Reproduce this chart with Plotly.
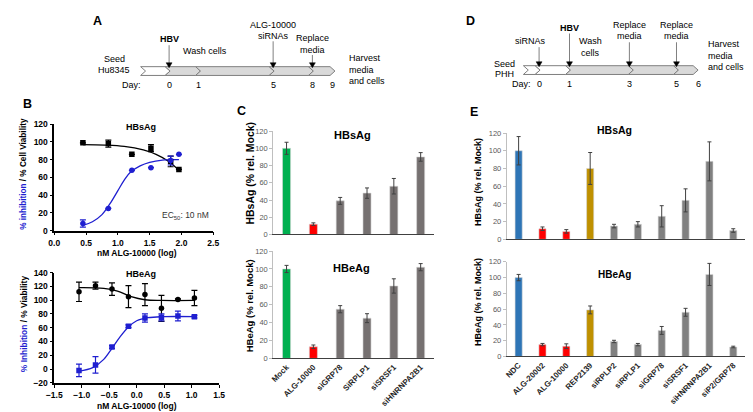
import plotly.graph_objects as go

W, H = 753, 412
FONT = "Liberation Sans, Arial, sans-serif"
BLUE = "#1f1fd0"


def px(x):
    return x / W


def py(y):
    return 1 - y / H


# ---------------- Panel B: dose response ----------------
b1_dose = [0.45, 0.85, 1.22, 1.52, 1.83, 1.96]
b1_inhib = [8, 25, 68, 71, 79, 86]
b1_inhib_err = [4, 0, 0, 0, 5, 0]
b1_viab = [99, 98, 86, 93, 78, 69]
b1_viab_err = [0, 4, 0, 4, 6, 0]
# fitted curves
b1_inhib_fit_x = [0.45, 0.6, 0.75, 0.9, 1.0, 1.1, 1.2, 1.35, 1.5, 1.7, 1.96]
b1_inhib_fit_y = [6, 10, 18, 33, 45, 57, 66, 73, 77, 79.5, 80]
b1_viab_fit_x = [0.45, 0.8, 1.1, 1.4, 1.6, 1.8, 1.96]
b1_viab_fit_y = [97, 96.5, 95, 91, 86, 78, 68]

b2_dose = [-1.05, -0.75, -0.45, -0.15, 0.15, 0.45, 0.75, 1.05]
b2_viab = [112, 121, 116, 105, 108, 88, 101, 103]
b2_viab_err = [14, 5, 9, 16, 16, 19, 1, 11]
b2_inhib = [-2, 6, 32, 62, 74, 75, 77, 76]
b2_inhib_err = [9, 12, 2, 2, 6, 5, 7, 2]
b2_viab_fit_x = [-1.05, -0.6, -0.35, -0.1, 0.15, 0.45, 1.05]
b2_viab_fit_y = [118, 117, 113, 105, 100.5, 99.5, 99.5]
b2_inhib_fit_x = [-1.05, -0.8, -0.6, -0.45, -0.3, -0.15, 0.0, 0.2, 0.5, 1.05]
b2_inhib_fit_y = [-3, 2, 14, 30, 47, 61, 70, 74.5, 76, 76]

# ---------------- Panel C: siRNA bars ----------------
c_labels = ["Mock", "ALG-10000", "siGRP78", "SiRPLP1", "siSRSF1", "siHNRNPA2B1"]
c_hbsag = [100, 12, 39, 48, 56, 90]
c_hbsag_err = [7, 1.5, 4, 6, 9, 5]
c_hbeag = [100, 13, 55, 45, 81, 102]
c_hbeag_err = [4, 2, 4, 5, 8, 4]
c_colors = ["#00b050", "#ff0000", "#767171", "#767171", "#767171", "#767171"]

# ---------------- Panel E: PHH bars ----------------
e_labels = ["NDC", "ALG-20002", "ALG-10000", "REP2139", "siRPLP2", "siRPLP1",
            "siGRP78", "siSRSF1", "siHNRNPA2B1", "siP2/GRP78"]
e_hbsag = [100, 12, 9, 80, 15, 17, 26, 44, 88, 10]
e_hbsag_err = [16, 2, 2, 18, 2, 3, 12, 13, 22, 2]
e_hbeag = [100, 15, 13, 59, 19, 15, 33, 56, 104, 12]
e_hbeag_err = [4, 1.5, 3, 5, 1.5, 1.5, 5, 5, 14, 1]
e_colors = ["#2e75b6", "#ff0000", "#ff0000", "#bf9000"] + ["#808080"] * 6

# ---------------- timelines ----------------
a_days = ["0", "1", "5", "8", "9"]
d_days = ["0", "1", "3", "5", "6"]

fig = go.Figure()


def scatter_err(x, y, err, color, symbol, xa, ya):
    fig.add_trace(go.Scatter(
        x=x, y=y, mode="markers", xaxis=xa, yaxis=ya,
        marker=dict(color=color, symbol=symbol, size=5.5),
        error_y=dict(type="data", array=err, color=color, thickness=1.2, width=3),
        showlegend=False))


def fit_line(x, y, color, xa, ya):
    fig.add_trace(go.Scatter(
        x=x, y=y, mode="lines", xaxis=xa, yaxis=ya,
        line=dict(color=color, width=1.3, shape="spline"), showlegend=False))


fit_line(b1_viab_fit_x, b1_viab_fit_y, "black", "x", "y")
fit_line(b1_inhib_fit_x, b1_inhib_fit_y, BLUE, "x", "y")
scatter_err(b1_dose, b1_viab, b1_viab_err, "black", "square", "x", "y")
scatter_err(b1_dose, b1_inhib, b1_inhib_err, BLUE, "circle", "x", "y")

fit_line(b2_viab_fit_x, b2_viab_fit_y, "black", "x2", "y2")
fit_line(b2_inhib_fit_x, b2_inhib_fit_y, BLUE, "x2", "y2")
scatter_err(b2_dose, b2_viab, b2_viab_err, "black", "circle", "x2", "y2")
scatter_err(b2_dose, b2_inhib, b2_inhib_err, BLUE, "square", "x2", "y2")


def bars(labels, vals, err, colors, xa, ya):
    fig.add_trace(go.Bar(
        x=labels, y=vals, xaxis=xa, yaxis=ya,
        marker=dict(color=colors, line=dict(color="#d9d9d9", width=0.6)),
        error_y=dict(type="data", array=err, color="#404040", thickness=1, width=2),
        showlegend=False))


bars(c_labels, c_hbsag, c_hbsag_err, c_colors, "x3", "y3")
bars(c_labels, c_hbeag, c_hbeag_err, c_colors, "x4", "y4")
bars(e_labels, e_hbsag, e_hbsag_err, e_colors, "x5", "y5")
bars(e_labels, e_hbeag, e_hbeag_err, e_colors, "x6", "y6")

# axes
b_x = dict(showline=True, linecolor="black", linewidth=1.5, ticks="outside",
           ticklen=3, tickwidth=1.3, tickcolor="black", showgrid=False,
           zeroline=False, tickformat=".1f",
           tickfont=dict(family=FONT, size=8.5, color="black", weight="bold"))
b_y = dict(showline=True, linecolor="black", linewidth=1.5, ticks="outside",
           ticklen=3, tickwidth=1.3, tickcolor="black", showgrid=False,
           zeroline=False, dtick=20,
           tickfont=dict(family=FONT, size=8.5, color="black", weight="bold"))
bar_x = dict(type="category", showline=True, linecolor="#404040", linewidth=1.2,
             ticks="", showgrid=False, zeroline=False, tickangle=-45,
             tickfont=dict(family=FONT, size=8, color="#262626", weight="bold"))
bar_y = dict(showline=True, linecolor="#bfbfbf", linewidth=0.8, ticks="outside",
             ticklen=3, tickcolor="#bfbfbf", showgrid=False, zeroline=False,
             range=[0, 120], dtick=20,
             tickfont=dict(family=FONT, size=7.5, color="#595959"))

layout = dict(
    width=W, height=H, margin=dict(l=0, r=0, t=0, b=0),
    paper_bgcolor="white", plot_bgcolor="white", bargap=0.7,
    font=dict(family=FONT, color="black"),
    xaxis=dict(b_x, domain=[px(39), px(201)], range=[0, 2.5], dtick=0.5, anchor="y"),
    yaxis=dict(b_y, domain=[py(223), py(114)], range=[0, 120], anchor="x"),
    xaxis2=dict(b_x, domain=[px(39), px(207)], range=[-1.5, 1.5], dtick=0.5, anchor="y2"),
    yaxis2=dict(b_y, domain=[py(379), py(266)], range=[-20, 140], anchor="x2"),
    xaxis3=dict(bar_x, domain=[px(262), px(426)], showticklabels=False, anchor="y3"),
    yaxis3=dict(bar_y, domain=[py(227), py(121)], anchor="x3"),
    xaxis4=dict(bar_x, domain=[px(262), px(426)], anchor="y4"),
    yaxis4=dict(bar_y, domain=[py(354), py(244)], anchor="x4"),
    xaxis5=dict(bar_x, domain=[px(500), px(743)], showticklabels=False, anchor="y5"),
    yaxis5=dict(bar_y, domain=[py(232), py(123)], anchor="x5"),
    xaxis6=dict(bar_x, domain=[px(500), px(743)], anchor="y6"),
    yaxis6=dict(bar_y, domain=[py(352), py(255)], anchor="x6"),
)
fig.update_layout(**layout)

ann = []
shapes = []


def text(x, y, s, size=9, bold=False, color="black", angle=0, xanchor="center",
         align="center"):
    ann.append(dict(x=px(x), y=py(y), xref="paper", yref="paper", text=s,
                    showarrow=False, textangle=angle, xanchor=xanchor,
                    yanchor="middle", align=align,
                    font=dict(family=FONT, size=size, color=color,
                              weight="bold" if bold else "normal")))


def arrow(x, y0, y1):
    # gray shaft with a small black head pointing down
    shapes.append(dict(type="line", xref="paper", yref="paper",
                       x0=px(x), x1=px(x), y0=py(y0), y1=py(y1 - 4),
                       line=dict(color="#808080", width=1)))
    path = (f"M {px(x - 3)},{py(y1 - 5)} L {px(x + 3)},{py(y1 - 5)} "
            f"L {px(x)},{py(y1)} Z")
    shapes.append(dict(type="path", path=path, xref="paper", yref="paper",
                       fillcolor="black", line=dict(color="black", width=0.5)))


# panel letters
for letter, x, y in [("A", 83, 8), ("B", 12, 93), ("C", 230, 100),
                     ("D", 463, 8), ("E", 467, 101)]:
    text(x, y, letter, size=12.5, bold=True)

# panel B texts
text(127, 117, "HBsAg", size=9, bold=True)
text(127, 267, "HBeAg", size=9, bold=True)
text(173, 208, "EC<sub>50</sub>: 10 nM", size=8.5, color="#333333")
text(123, 246, "nM ALG-10000 (log)", size=8.5, bold=True)
text(123, 403, "nM ALG-10000 (log)", size=8.5, bold=True)
text(8, 165, f"<span style='color:{BLUE}'>% inhibition</span> / % Cell Viability",
     size=8.2, bold=True, angle=-90)
text(8, 318, f"<span style='color:{BLUE}'>% Inhibition</span> / % Viability",
     size=8.4, bold=True, angle=-90)

# panel C / E texts
text(343, 125, "HBsAg", size=11, bold=True)
text(342, 261, "HBeAg", size=11, bold=True)
text(238, 164, "HBsAg (% rel. Mock)", size=10.5, bold=True, angle=-90)
text(238, 300, "HBeAg (% rel. Mock)", size=9.5, bold=True, angle=-90)
text(610, 120, "HBsAg", size=10.5, bold=True)
text(610, 268, "HBeAg", size=10, bold=True)
text(471, 173, "HBsAg (% rel. Mock)", size=9, bold=True, angle=-90)
text(471, 296, "HBeAg (% rel. Mock)", size=9, bold=True, angle=-90)


def chevrons(bounds, fills, top, bot, d=5):
    mid = (top + bot) / 2
    for i in range(len(bounds) - 1):
        x0, x1 = bounds[i], bounds[i + 1]
        path = (f"M {px(x0)},{py(top)} L {px(x1)},{py(top)} L {px(x1 + d)},{py(mid)} "
                f"L {px(x1)},{py(bot)} L {px(x0)},{py(bot)} L {px(x0 + d)},{py(mid)} Z")
        shapes.append(dict(type="path", path=path, xref="paper", yref="paper",
                           fillcolor=fills[i], line=dict(color="#7f7f7f", width=1)))


# A
chevrons([127, 152, 183, 258, 298, 320],
         ["white", "#d9d9d9", "#d9d9d9", "#d9d9d9", "#d9d9d9"], 55, 64)
text(100, 47, "Seed", size=9)
text(100, 58, "Hu8345", size=9)
text(118, 74, "Day:", size=9)
for d, x in zip(a_days, [156, 186, 262, 302, 322]):
    text(x, 74, d, size=9)
text(156, 27, "HBV", size=9, bold=True)
arrow(156, 33, 56)
text(193, 39, "Wash cells", size=9)
text(262, 12, "ALG-10000", size=9)
text(262, 24, "siRNAs", size=9)
arrow(262, 29, 56)
text(302, 26, "Replace", size=9)
text(302, 38, "media", size=9)
arrow(302, 43, 56)
text(337, 58, "Harvest<br>media<br>and cells", size=9, xanchor="left", align="left")

# D
chevrons([517, 529, 560, 624, 670, 690],
         ["white", "white", "#d9d9d9", "#d9d9d9", "#d9d9d9"], 54, 63)
text(498, 52, "Seed", size=9)
text(498, 63, "PHH", size=9)
text(515, 73, "Day:", size=9)
for d, x in zip(d_days, [533, 564, 625, 673, 695]):
    text(x, 73, d, size=9)
text(524, 29, "siRNAs", size=9)
arrow(533, 35, 55)
text(564, 15, "HBV", size=9, bold=True)
arrow(564, 21, 55)
text(585, 29, "Wash", size=9)
text(585, 41, "cells", size=9)
text(625, 12, "Replace", size=9)
text(625, 24, "media", size=9)
arrow(625, 30, 55)
text(673, 12, "Replace", size=9)
text(673, 24, "media", size=9)
arrow(673, 30, 55)
text(703, 44, "Harvest<br>media<br>and cells", size=9, xanchor="left", align="left")

fig.update_layout(annotations=ann, shapes=shapes)
fig.write_html("out.html")
